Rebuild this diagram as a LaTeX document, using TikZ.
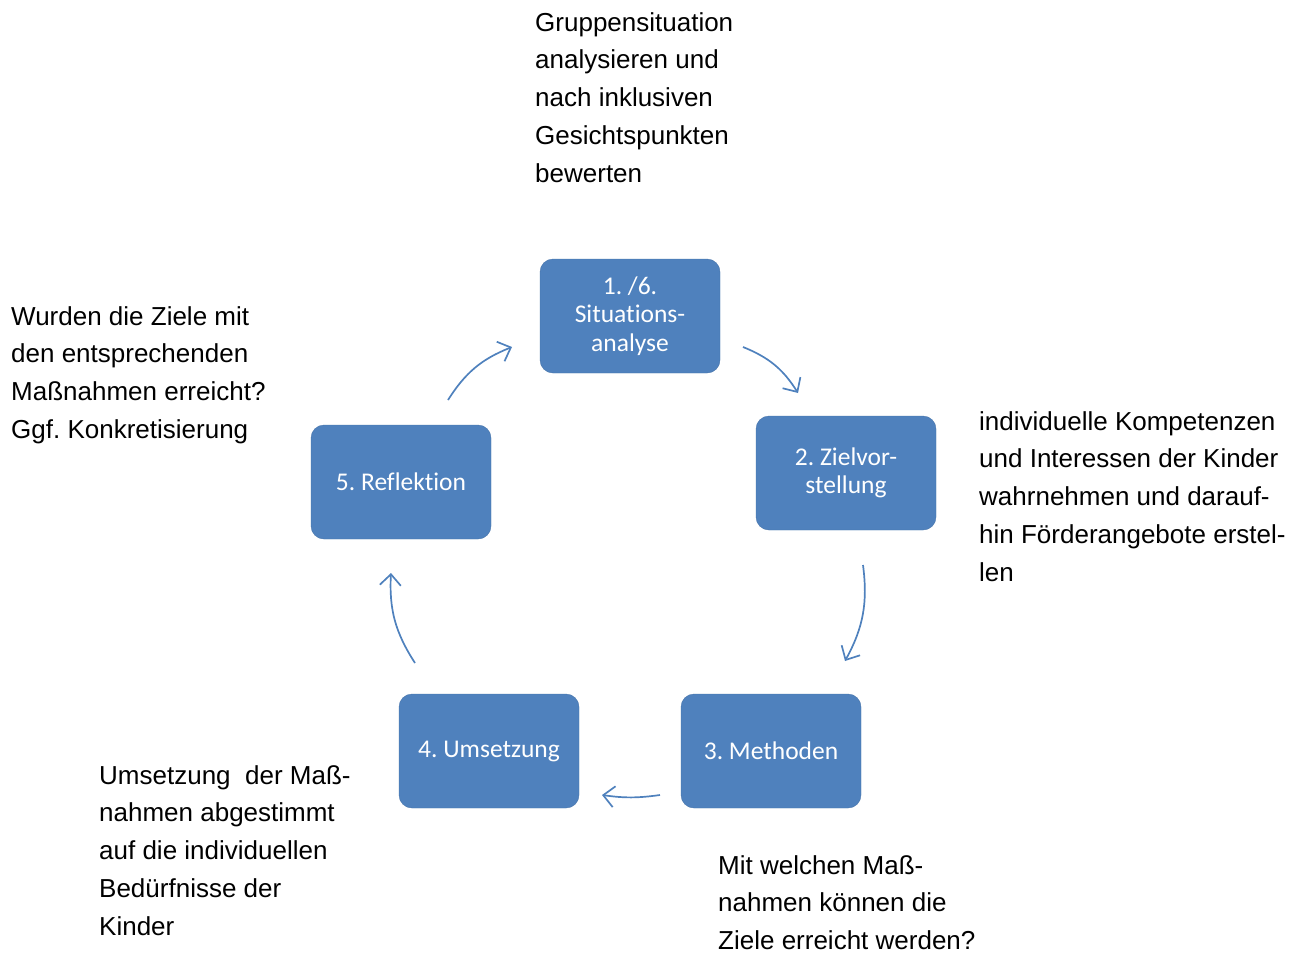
\documentclass[tikz,border=0pt]{standalone}
\usepackage{fontspec}
\setmainfont{Liberation Sans}
\newfontfamily\boxfont[Ligatures={NoCommon}]{Carlito}
\usetikzlibrary{arrows.meta}
\definecolor{accent}{HTML}{4F81BD}
\frenchspacing
\begin{document}
\begin{tikzpicture}[x=1pt,y=-1pt,
  stepbox/.style={fill=accent,draw=accent!90!black,line width=0.4pt,rounded corners=13pt,minimum width=180pt,minimum height=114pt,
     text=white,align=center,font=\boxfont\fontsize{25.5}{28.5}\selectfont,inner sep=0pt},
  note/.style={anchor=north west,align=left,inner sep=0pt,font=\fontsize{26}{37.8}\selectfont},
  flow/.style={draw=accent,line width=1.7pt,-{Straight Barb[length=11pt,width=21pt,line width=1.7pt]},bend left=18}]
\useasboundingbox (0,0) rectangle (1304,953);
\node[stepbox] (s1) at (630,316) {1. /6.\\Situations-\\analyse};
\node[stepbox] (s2) at (846,473) {2. Zielvor-\\stellung};
\node[stepbox] (s3) at (771,751) {3. Methoden};
\node[stepbox] (s4) at (489,751) {4. Umsetzung};
\node[stepbox] (s5) at (401,482) {5. Reflektion};

\coordinate (a1s) at (743,347); \coordinate (a1e) at (798,393);
\coordinate (a2s) at (863,565); \coordinate (a2e) at (845,661);
\coordinate (a3s) at (660,795); \coordinate (a3e) at (602,795);
\coordinate (a4s) at (415,663); \coordinate (a4e) at (391,573);
\coordinate (a5s) at (448,400); \coordinate (a5e) at (512,347);
\draw[flow] (a1s) to (a1e);
\draw[flow] (a2s) to (a2e);
\draw[flow,bend left=8] (a3s) to (a3e);
\draw[flow] (a4s) to (a4e);
\draw[flow] (a5s) to (a5e);

\node[note] (t1) at (535,12) {Gruppensituation\\analysieren und\\nach inklusiven\\Gesichtspunkten\\bewerten};
\node[note] (t5) at (11,306) {Wurden die Ziele mit\\den entsprechenden\\Maßnahmen erreicht?\\Ggf. Konkretisierung};
\node[note] (t2) at (979,411) {individuelle Kompetenzen\\und Interessen der Kinder\\wahrnehmen und darauf-\\hin Förderangebote erstel-\\len};
\node[note] (t4) at (99,765) {Umsetzung~ der Maß-\\nahmen abgestimmt\\auf die individuellen\\Bedürfnisse der\\Kinder};
\node[note] (t3) at (718,855) {Mit welchen Maß-\\nahmen können die\\Ziele erreicht werden?};
\end{tikzpicture}
\end{document}
